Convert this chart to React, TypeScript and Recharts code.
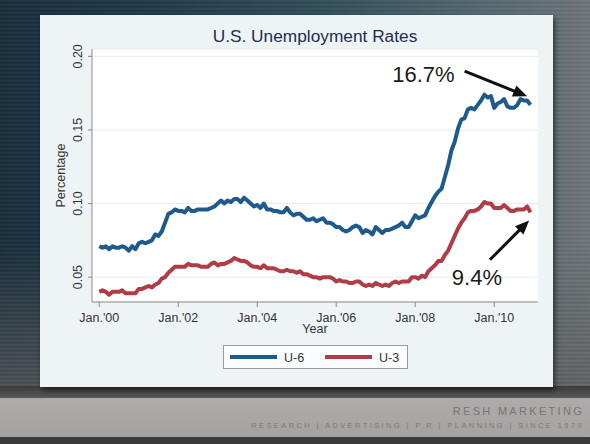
import React from 'react'
import { LineChart, Line, XAxis, YAxis, CartesianGrid, ReferenceLine } from 'recharts'

/* ------------------------------------------------------------------ */
/*  Data (monthly, Jan 2000 – Dec 2010, percent)                       */
/* ------------------------------------------------------------------ */

const U6_RATE = [
  7.1, 7.0, 7.1, 6.9, 7.1, 7.0, 7.0, 7.1, 7.0, 6.8, 7.1, 6.9, // 2000
  7.3, 7.4, 7.3, 7.4, 7.5, 7.9, 7.8, 8.1, 8.7, 9.3, 9.4, 9.6, // 2001
  9.5, 9.5, 9.4, 9.7, 9.5, 9.5, 9.6, 9.6, 9.6, 9.6, 9.7, 9.8, // 2002
  10.0, 10.2, 10.0, 10.2, 10.1, 10.3, 10.3, 10.1, 10.4, 10.2, 10.0, 9.8, // 2003
  9.9, 9.7, 10.0, 9.6, 9.6, 9.5, 9.5, 9.4, 9.4, 9.7, 9.4, 9.2, // 2004
  9.3, 9.3, 9.1, 8.9, 8.9, 9.0, 8.8, 8.9, 9.0, 8.7, 8.7, 8.6, // 2005
  8.4, 8.4, 8.2, 8.1, 8.2, 8.4, 8.5, 8.4, 8.0, 8.2, 8.1, 7.9, // 2006
  8.4, 8.2, 8.0, 8.2, 8.2, 8.3, 8.4, 8.5, 8.7, 8.4, 8.4, 8.8, // 2007
  9.2, 9.0, 9.1, 9.2, 9.7, 10.1, 10.5, 10.8, 11.0, 11.8, 12.6, 13.6, // 2008
  14.2, 15.1, 15.7, 15.8, 16.4, 16.5, 16.4, 16.7, 17.0, 17.4, 17.2, 17.3, // 2009
  16.5, 16.8, 16.9, 17.1, 16.6, 16.5, 16.5, 16.7, 17.1, 17.0, 17.0, 16.7, // 2010
]

const U3_RATE = [
  4.0, 4.1, 4.0, 3.8, 4.0, 4.0, 4.0, 4.1, 3.9, 3.9, 3.9, 3.9, // 2000
  4.2, 4.2, 4.3, 4.4, 4.3, 4.5, 4.6, 4.9, 5.0, 5.3, 5.5, 5.7, // 2001
  5.7, 5.7, 5.7, 5.9, 5.8, 5.8, 5.8, 5.7, 5.7, 5.7, 5.9, 6.0, // 2002
  5.8, 5.9, 5.9, 6.0, 6.1, 6.3, 6.2, 6.1, 6.1, 6.0, 5.8, 5.7, // 2003
  5.7, 5.6, 5.8, 5.6, 5.6, 5.6, 5.5, 5.4, 5.4, 5.5, 5.4, 5.4, // 2004
  5.3, 5.4, 5.2, 5.2, 5.1, 5.0, 5.0, 4.9, 5.0, 5.0, 5.0, 4.9, // 2005
  4.7, 4.8, 4.7, 4.7, 4.6, 4.6, 4.7, 4.7, 4.5, 4.4, 4.5, 4.4, // 2006
  4.6, 4.5, 4.4, 4.5, 4.4, 4.6, 4.7, 4.6, 4.7, 4.7, 4.7, 5.0, // 2007
  5.0, 4.9, 5.1, 5.0, 5.4, 5.6, 5.8, 6.1, 6.1, 6.5, 6.8, 7.3, // 2008
  7.8, 8.3, 8.7, 9.0, 9.4, 9.5, 9.5, 9.6, 9.8, 10.1, 10.0, 10.0, // 2009
  9.7, 9.7, 9.7, 9.9, 9.7, 9.5, 9.5, 9.6, 9.6, 9.6, 9.8, 9.4, // 2010
]

const SERIES_NAMES = ['U-6', 'U-3']
const SERIES_KEYS = ['u6', 'u3']

// x ticks are month indexes counted from Jan 2000
const X_TICKS = [0, 24, 48, 72, 96, 120]
const X_TICK_LABELS = ["Jan.'00", "Jan.'02", "Jan.'04", "Jan.'06", "Jan.'08", "Jan.'10"]
const Y_TICKS = [0.05, 0.1, 0.15, 0.2]
const Y_TICK_LABELS = ['0.05', '0.10', '0.15', '0.20']

const CALLOUT_TEXT = ['16.7%', '9.4%']

/* ------------------------------------------------------------------ */
/*  Layout / style                                                     */
/* ------------------------------------------------------------------ */

const W = 590
const H = 444
const PLOT_LEFT = 92
const PLOT_RIGHT = 538
const PLOT_TOP = 49
const PLOT_BOTTOM = 302

const COLORS = ['#1f5a8c', '#b03d45']
const FONT = '"Liberation Sans", Arial, sans-serif'
const AXIS_GREY = '#8c8c8c'

const data = U6_RATE.map((v, i) => ({ m: i, u6: v / 100, u3: U3_RATE[i] / 100 }))

// arrow segments in data units (month index, rate)
const CALLOUTS = [
  { text: CALLOUT_TEXT[0], from: { x: 111, y: 0.19 }, to: { x: 130, y: 0.1729 }, dx: -10, dy: 11, anchor: 'end' },
  { text: CALLOUT_TEXT[1], from: { x: 118.7, y: 0.0618 }, to: { x: 130.6, y: 0.0885 }, dx: -13, dy: 25, anchor: 'middle' },
]

/* ------------------------------------------------------------------ */
/*  Ticks + arrow shape                                                */
/* ------------------------------------------------------------------ */

function XTick(props: any) {
  const { x, payload } = props
  const i = X_TICKS.indexOf(payload.value)
  return (
    <text x={x} y={322} textAnchor="middle" fontSize={12.5} fontFamily={FONT} fill="#333">
      {X_TICK_LABELS[i]}
    </text>
  )
}

function YTick(props: any) {
  const { y, payload } = props
  const i = Y_TICKS.indexOf(payload.value)
  return (
    <text
      transform={`translate(${PLOT_LEFT - 10}, ${y}) rotate(-90)`}
      textAnchor="middle"
      fontSize={12.5}
      fontFamily={FONT}
      fill="#333"
    >
      {Y_TICK_LABELS[i]}
    </text>
  )
}

function Arrow(props: any) {
  const { x1, y1, x2, y2, callout } = props
  const a = Math.atan2(y2 - y1, x2 - x1)
  const c = Math.cos(a)
  const s = Math.sin(a)
  const len = 14
  const half = 6
  const bx = x2 - len * c
  const by = y2 - len * s
  const pts = `${x2},${y2} ${bx - s * half},${by + c * half} ${bx + s * half},${by - c * half}`
  return (
    <g>
      <line x1={x1} y1={y1} x2={bx + c} y2={by + s} stroke="#111" strokeWidth={3} />
      <polygon points={pts} fill="#111" />
      <text
        x={x1 + callout.dx}
        y={y1 + callout.dy}
        textAnchor={callout.anchor}
        fontSize={22}
        fontFamily={FONT}
        fill="#1a1a1a"
      >
        {callout.text}
      </text>
    </g>
  )
}

/* ------------------------------------------------------------------ */
/*  Component                                                          */
/* ------------------------------------------------------------------ */

export default function App() {
  return (
    <div
      style={{
        position: 'absolute',
        left: 0,
        top: 0,
        width: W,
        height: H,
        overflow: 'hidden',
        background:
          'repeating-linear-gradient(180deg, rgba(255,255,255,0.035) 0px, rgba(255,255,255,0.035) 1px, rgba(0,0,0,0.05) 2px, rgba(0,0,0,0.05) 4px),' +
          'linear-gradient(180deg, rgba(0,0,0,0) 55%, rgba(95,95,95,0.75) 88%),' +
          'linear-gradient(90deg, #1a2f3d 0%, #213b4a 25%, #33505c 55%, #566a72 82%, #70777a 100%)',
      }}
    >
      {/* footer band */}
      <div style={{ position: 'absolute', left: 0, top: 386, width: W, height: 12, background: 'linear-gradient(180deg, #3c3c3c, #585858)' }} />
      <div style={{ position: 'absolute', left: 0, top: 398, width: W, height: 39, background: 'linear-gradient(180deg, #afabab, #a6a2a2)' }} />
      <div style={{ position: 'absolute', left: 0, top: 437, width: W, height: 7, background: '#3a3a3a' }} />

      {/* card */}
      <div
        style={{
          position: 'absolute',
          left: 40,
          top: 15,
          width: 513,
          height: 372,
          background: '#eef3f6',
          boxShadow: '2px 3px 5px rgba(0,0,0,0.55)',
        }}
      />

      <LineChart
        width={W}
        height={H}
        data={data}
        margin={{ top: PLOT_TOP, right: W - PLOT_RIGHT, left: PLOT_LEFT - 60, bottom: H - PLOT_BOTTOM - 40 }}
        style={{ position: 'absolute', left: 0, top: 0 }}
      >
        <CartesianGrid vertical={false} fill="#ffffff" stroke="#e6ecf0" strokeWidth={1} />
        <XAxis
          dataKey="m"
          type="number"
          domain={[-2.2, 133.3]}
          allowDataOverflow
          ticks={X_TICKS}
          interval={0}
          height={40}
          tickSize={5}
          axisLine={{ stroke: AXIS_GREY }}
          tickLine={{ stroke: AXIS_GREY }}
          tick={<XTick />}
        />
        <YAxis
          type="number"
          domain={[0.0331, 0.205]}
          allowDataOverflow
          ticks={Y_TICKS}
          interval={0}
          width={60}
          tickSize={4}
          axisLine={{ stroke: AXIS_GREY }}
          tickLine={{ stroke: AXIS_GREY }}
          tick={<YTick />}
        />
        {SERIES_KEYS.map((k, i) => (
          <Line
            key={k}
            dataKey={k}
            name={SERIES_NAMES[i]}
            type="linear"
            stroke={COLORS[i]}
            strokeWidth={4}
            strokeLinejoin="round"
            dot={false}
            isAnimationActive={false}
          />
        ))}
        {CALLOUTS.map((c) => (
          <ReferenceLine
            key={c.text}
            segment={[c.from, c.to]}
            ifOverflow="visible"
            shape={(p: any) => <Arrow {...p} callout={c} />}
          />
        ))}
      </LineChart>

      {/* titles, legend, footer */}
      <svg width={W} height={H} style={{ position: 'absolute', left: 0, top: 0, pointerEvents: 'none' }}>
        <text x={(PLOT_LEFT + PLOT_RIGHT) / 2} y={41.5} textAnchor="middle" fontSize={17.3} fontFamily={FONT} fill="#1f2d4c">
          U.S. Unemployment Rates
        </text>
        <text
          transform={`translate(65, ${(PLOT_TOP + PLOT_BOTTOM) / 2}) rotate(-90)`}
          textAnchor="middle"
          fontSize={12.5}
          fontFamily={FONT}
          fill="#333"
        >
          Percentage
        </text>
        <text x={(PLOT_LEFT + PLOT_RIGHT) / 2} y={333} textAnchor="middle" fontSize={12.5} fontFamily={FONT} fill="#333">
          Year
        </text>

        <rect x={223.5} y={345.5} width={184} height={23} fill="#fbfcfd" stroke="#9a9a9a" />
        {SERIES_NAMES.map((n, i) => (
          <g key={n} transform={`translate(${230 + i * 95}, 0)`}>
            <line x1={0} y1={357} x2={47} y2={357} stroke={COLORS[i]} strokeWidth={4} />
            <text x={54} y={361.5} fontSize={12.5} fontFamily={FONT} fill="#333">
              {n}
            </text>
          </g>
        ))}

        <text x={584} y={415} textAnchor="end" fontSize={11} letterSpacing={2.3} fontFamily={FONT} fill="#787575">
          RESH MARKETING
        </text>
        <text x={584} y={427.5} textAnchor="end" fontSize={7.5} letterSpacing={2.4} fontFamily={FONT} fill="#7d7a7a">
          RESEARCH  |  ADVERTISING  |  P.R  |  PLANNING  |  SINCE 1979
        </text>
      </svg>
    </div>
  )
}
